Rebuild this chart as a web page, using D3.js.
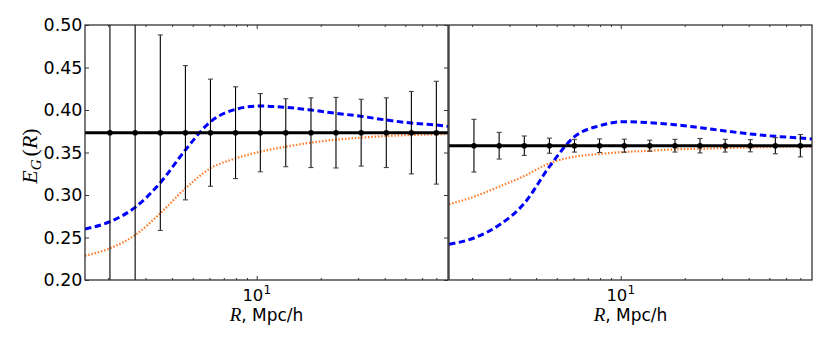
<!DOCTYPE html>
<html><head><meta charset="utf-8">
<script src="https://cdn.jsdelivr.net/npm/d3@7"></script>
<style>body{margin:0;background:#fff}</style>
</head><body><svg id="c" width="830" height="350"></svg>
<script>
// ---- data ----
const R = [2.04, 2.68, 3.52, 4.62, 6.06, 7.95, 10.4, 13.7, 18.0, 23.6, 31.0, 40.7, 53.4, 70.0];
const leftMean = 0.3733;
const leftErr = [0.30, 0.25, 0.115, 0.079, 0.063, 0.054, 0.046, 0.040, 0.041, 0.0415, 0.0393, 0.041, 0.0485, 0.0605];
const rightMean = 0.358;
const rightErr = [0.031, 0.0157, 0.0114, 0.0089, 0.0075, 0.008, 0.0077, 0.0065, 0.0075, 0.0085, 0.0075, 0.0072, 0.0095, 0.0132];
const curveR = [1.557, 2.04, 2.68, 3.52, 4.62, 6.06, 7.95, 10.4, 13.7, 18.0, 23.6, 31.0, 40.7, 53.4, 70.0, 79.4];
const leftBlue = [0.260, 0.2686, 0.2855, 0.3145, 0.353, 0.3862, 0.4008, 0.4047, 0.4032, 0.4000, 0.3961, 0.3926, 0.3882, 0.3847, 0.3824, 0.3808];
const leftOrange = [0.2286, 0.2373, 0.2529, 0.2785, 0.3078, 0.3314, 0.3431, 0.3509, 0.3568, 0.3616, 0.3651, 0.3675, 0.3694, 0.3706, 0.3714, 0.3718];
const rightBlue = [0.2420, 0.2494, 0.2647, 0.2902, 0.3333, 0.3686, 0.3815, 0.3862, 0.3850, 0.3827, 0.3792, 0.3753, 0.3718, 0.3690, 0.3670, 0.3659];
const rightOrange = [0.2890, 0.2980, 0.3098, 0.3224, 0.3373, 0.3451, 0.3482, 0.3506, 0.3521, 0.3537, 0.3545, 0.3553, 0.3560, 0.3565, 0.3569, 0.3570];
const yTicks = [0.20, 0.25, 0.30, 0.35, 0.40, 0.45, 0.50];
const xMajor = [10];
const xMinor = [2, 3, 4, 5, 6, 7, 8, 9, 20, 30, 40, 50, 60, 70];
const xDomain = [1.557, 79.4];
const yDomain = [0.20, 0.50];

// ---- drawing ----
const svg = d3.select("#c");
const yTop = 25, yBot = 280;
const y = d3.scaleLinear().domain(yDomain).range([yBot, yTop]);

const panels = [
  {id: "L", x0: 85, x1: 448, mean: leftMean, err: leftErr, blue: leftBlue, orange: leftOrange, yLabels: true},
  {id: "R", x0: 449, x1: 812, mean: rightMean, err: rightErr, blue: rightBlue, orange: rightOrange, yLabels: false}
];

const defs = svg.append("defs");

panels.forEach(p => {
  const x = d3.scaleLog().domain(xDomain).range([p.x0, p.x1]);
  defs.append("clipPath").attr("id", "clip" + p.id)
    .append("rect").attr("x", p.x0).attr("y", yTop).attr("width", p.x1 - p.x0).attr("height", yBot - yTop);
  const g = svg.append("g").attr("clip-path", `url(#clip${p.id})`);

  const line = d3.line().x((d, i) => x(curveR[i])).y(d => y(d)).curve(d3.curveMonotoneX);
  g.append("path").attr("d", line(p.orange)).attr("fill", "none")
    .attr("stroke", "#ff7a26").attr("stroke-width", 2.2).attr("stroke-dasharray", "1.5,1.8");
  g.append("path").attr("d", line(p.blue)).attr("fill", "none")
    .attr("stroke", "#0000ff").attr("stroke-width", 3).attr("stroke-dasharray", "6.5,3.5");

  g.append("line").attr("x1", p.x0).attr("x2", p.x1)
    .attr("y1", y(p.mean)).attr("y2", y(p.mean))
    .attr("stroke", "#000").attr("stroke-width", 3);

  const eb = g.selectAll("g.eb").data(R).enter().append("g");
  eb.append("line").attr("x1", d => x(d)).attr("x2", d => x(d))
    .attr("y1", (d, i) => y(p.mean + p.err[i])).attr("y2", (d, i) => y(p.mean - p.err[i]))
    .attr("stroke", "#000").attr("stroke-width", 1.1);
  [1, -1].forEach(s => {
    eb.append("line").attr("x1", d => x(d) - 2.5).attr("x2", d => x(d) + 2.5)
      .attr("y1", (d, i) => y(p.mean + s * p.err[i])).attr("y2", (d, i) => y(p.mean + s * p.err[i]))
      .attr("stroke", "#444").attr("stroke-width", 1.1);
  });
  eb.append("circle").attr("cx", d => x(d)).attr("cy", y(p.mean)).attr("r", 2.8).attr("fill", "#000");

  // frame
  svg.append("rect").attr("x", p.x0).attr("y", yTop).attr("width", p.x1 - p.x0).attr("height", yBot - yTop)
    .attr("fill", "none").attr("stroke", "#222").attr("stroke-width", 1.2);

  // x ticks
  const addX = (gen, ty, vals, size) => {
    const a = svg.append("g").attr("transform", `translate(0,${ty})`)
      .call(gen(x).tickValues(vals).tickSize(-size).tickFormat(""));
    a.select(".domain").remove();
    a.selectAll("line").attr("stroke", "#333");
  };
  addX(d3.axisBottom, yBot, xMinor, 2);
  addX(d3.axisBottom, yBot, xMajor, 4);
  addX(d3.axisTop, yTop, xMinor, 2);
  addX(d3.axisTop, yTop, xMajor, 4);

  // 10^1 label
  xMajor.forEach(v => {
    const t = svg.append("text").attr("x", x(v)).attr("y", 301).attr("text-anchor", "middle")
      .attr("font-family", "DejaVu Sans").attr("font-size", 16.5).attr("fill", "#000");
    t.append("tspan").text("10");
    t.append("tspan").attr("font-size", 12).attr("dy", -7).text(Math.round(Math.log10(v)));
  });

  // x label
  const xl = svg.append("text").attr("x", (p.x0 + p.x1) / 2).attr("y", 321).attr("text-anchor", "middle")
    .attr("font-family", "DejaVu Sans").attr("font-size", 17).attr("fill", "#000");
  xl.append("tspan").attr("font-family", "Liberation Serif").attr("font-style", "italic").attr("font-size", 19).text("R");
  xl.append("tspan").text(", Mpc/h");

  if (p.yLabels) {
    const ya = svg.append("g").attr("transform", `translate(${p.x0},0)`)
      .call(d3.axisLeft(y).tickValues(yTicks).tickSize(-4).tickPadding(2.5).tickFormat(d3.format(".2f")));
    ya.select(".domain").remove();
    ya.selectAll("line").attr("stroke", "#333");
    ya.selectAll("text").attr("font-family", "DejaVu Sans").attr("font-size", 17.5).attr("fill", "#000");
    const yb = svg.append("g").attr("transform", `translate(${p.x1},0)`)
      .call(d3.axisRight(y).tickValues(yTicks).tickSize(-4).tickFormat(""));
    yb.select(".domain").remove();
    yb.selectAll("line").attr("stroke", "#333");
  }
});

// y label
const yl = svg.append("text").attr("transform", `translate(37,156) rotate(-90)`)
  .attr("text-anchor", "middle").attr("font-family", "Liberation Serif").attr("font-size", 22).attr("fill", "#000");
yl.append("tspan").attr("font-style", "italic").text("E");
yl.append("tspan").attr("font-style", "italic").attr("font-size", 15).attr("dy", 4).text("G");
yl.append("tspan").attr("dy", -4).attr("dx", 3).text("(");
yl.append("tspan").attr("font-style", "italic").text("R");
yl.append("tspan").text(")");
</script></body></html>
